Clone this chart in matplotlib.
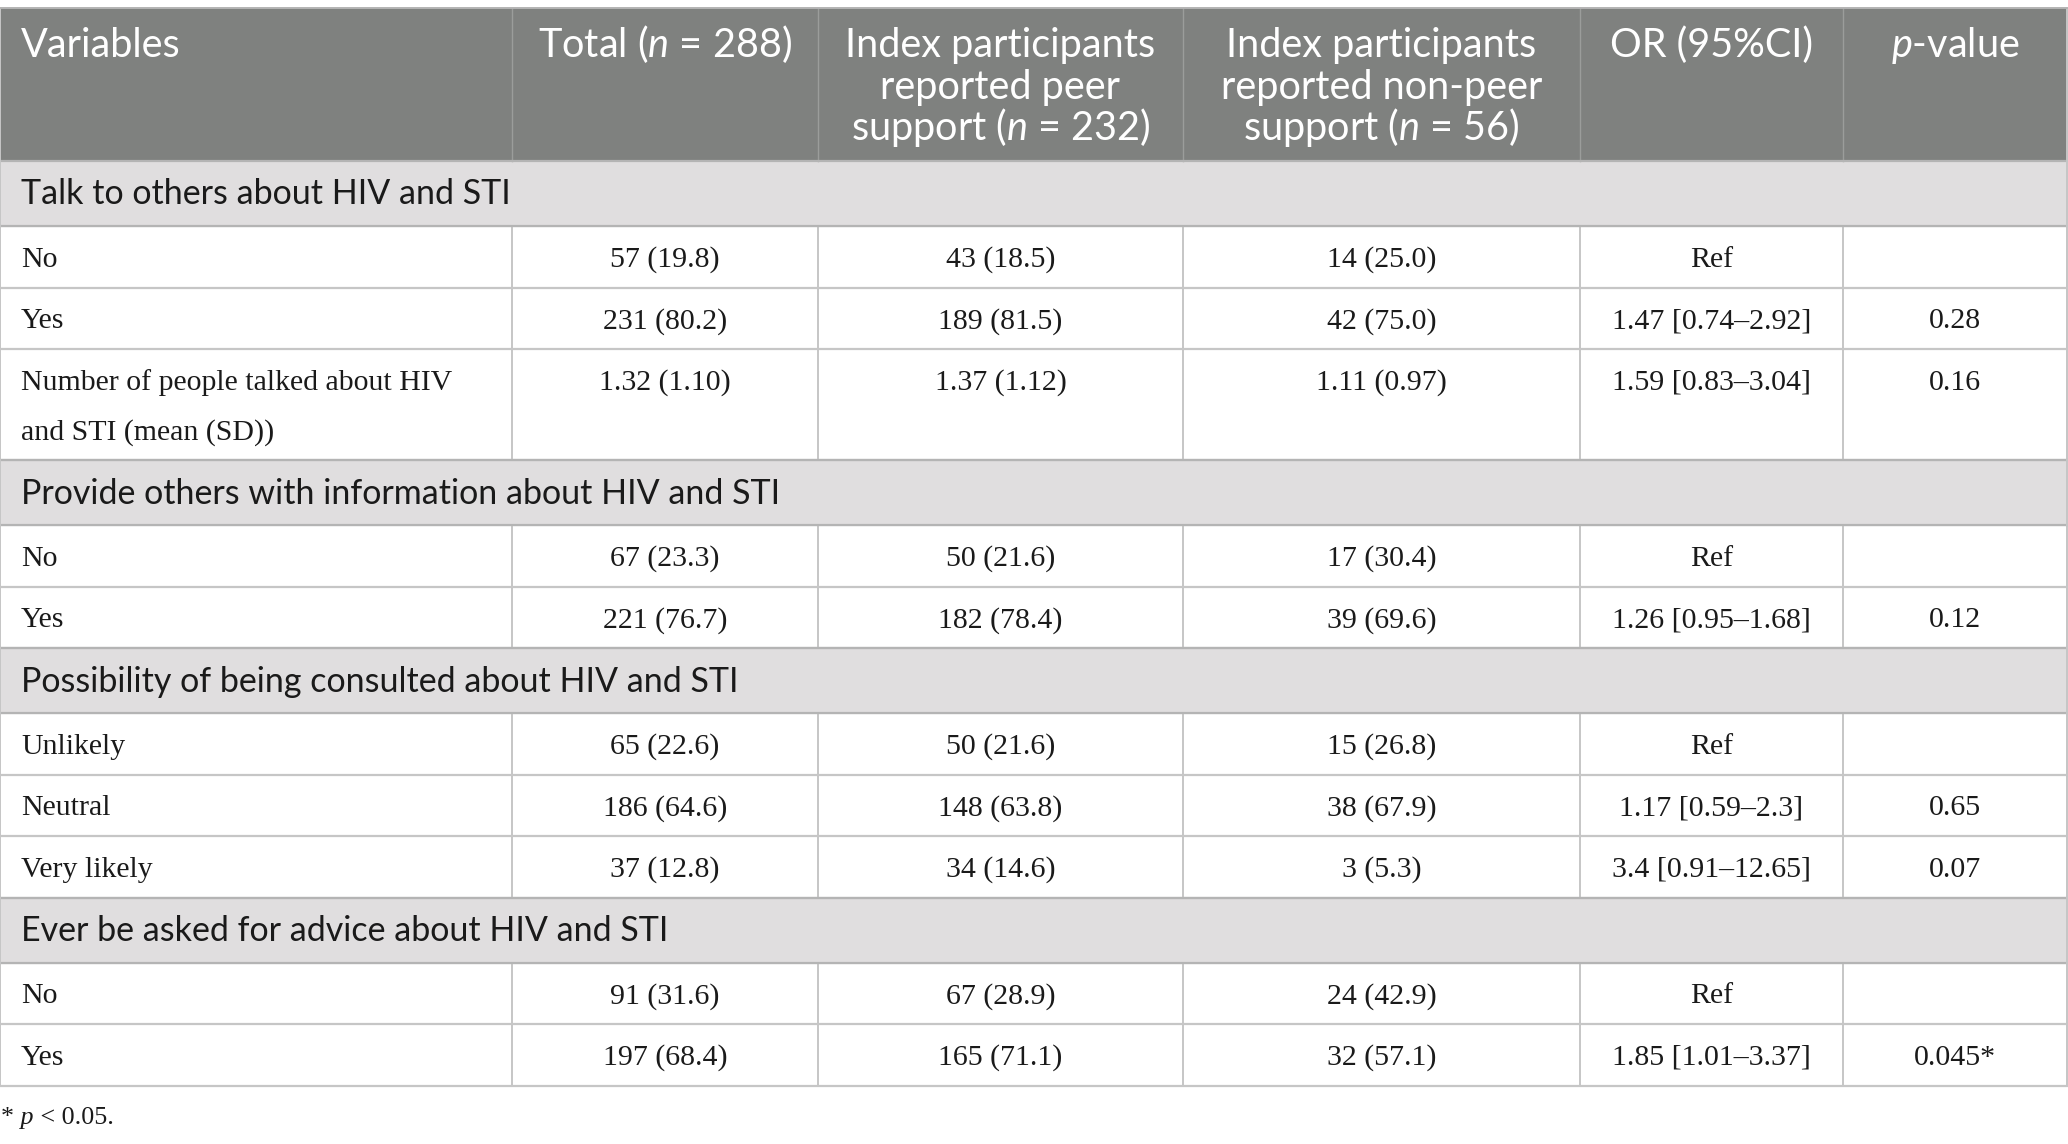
import matplotlib
matplotlib.use("Agg")
import matplotlib.pyplot as plt
from matplotlib.patches import Rectangle

plt.rcParams['mathtext.fontset'] = 'custom'
plt.rcParams['mathtext.rm'] = 'Lato'
plt.rcParams['mathtext.it'] = 'Lato:italic'

# header lines per column
headers = [
    ["Variables"],
    ["Total ($n$ = 288)"],
    ["Index participants", "reported peer", "support ($n$ = 232)"],
    ["Index participants", "reported non-peer", "support ($n$ = 56)"],
    ["OR (95%CI)"],
    ["$p$-value"],
]

sections = [
    "Talk to others about HIV and STI",
    "Provide others with information about HIV and STI",
    "Possibility of being consulted about HIV and STI",
    "Ever be asked for advice about HIV and STI",
]

labels = [
    ["No", "Yes", "Number of people talked about HIV\nand STI (mean (SD))"],
    ["No", "Yes"],
    ["Unlikely", "Neutral", "Very likely"],
    ["No", "Yes"],
]
total = [
    ["57 (19.8)", "231 (80.2)", "1.32 (1.10)"],
    ["67 (23.3)", "221 (76.7)"],
    ["65 (22.6)", "186 (64.6)", "37 (12.8)"],
    ["91 (31.6)", "197 (68.4)"],
]
peer = [
    ["43 (18.5)", "189 (81.5)", "1.37 (1.12)"],
    ["50 (21.6)", "182 (78.4)"],
    ["50 (21.6)", "148 (63.8)", "34 (14.6)"],
    ["67 (28.9)", "165 (71.1)"],
]
nonpeer = [
    ["14 (25.0)", "42 (75.0)", "1.11 (0.97)"],
    ["17 (30.4)", "39 (69.6)"],
    ["15 (26.8)", "38 (67.9)", "3 (5.3)"],
    ["24 (42.9)", "32 (57.1)"],
]
or_ci = [
    ["Ref", "1.47 [0.74\u20132.92]", "1.59 [0.83\u20133.04]"],
    ["Ref", "1.26 [0.95\u20131.68]"],
    ["Ref", "1.17 [0.59\u20132.3]", "3.4 [0.91\u201312.65]"],
    ["Ref", "1.85 [1.01\u20133.37]"],
]
pvals = [
    ["", "0.28", "0.16"],
    ["", "0.12"],
    ["", "0.65", "0.07"],
    ["", "0.045*"],
]
footnote = [("*", "normal"), (" p", "italic"), (" < 0.05.", "normal")]

W, H = 2068, 1144
col_x = [0, 512, 818, 1183, 1580, 1843, 2067]
top = 8
head_h = 153
sec_h = 65
row_h = 61.5
tall_h = 111

head_bg = '#7f817f'
sec_bg = '#e0dedf'
grid = '#c6c6c6'
ink = '#1a1a1a'
sans = 'Lato'
serif = 'Liberation Serif'

fig = plt.figure(figsize=(W / 100, H / 100), dpi=100)
ax = fig.add_axes([0, 0, 1, 1])
ax.set_xlim(0, W)
ax.set_ylim(H, 0)
ax.axis('off')

# header
ax.add_patch(Rectangle((0, top), W - 1, head_h, color=head_bg, zorder=0))
for x in col_x[1:-1]:
    ax.plot([x, x], [top, top + head_h], color='#9b9d9b', lw=1, zorder=1)
for i, lines in enumerate(headers):
    for k, line in enumerate(lines):
        yb = top + 49 + k * 41.5
        if i == 0:
            ax.text(21, yb, line, color='white', fontsize=28.5, family=sans,
                    ha='left', va='baseline')
        else:
            ax.text((col_x[i] + col_x[i + 1]) / 2, yb, line, color='white',
                    fontsize=28.5, family=sans, ha='center', va='baseline')

y = top + head_h
for s, name in enumerate(sections):
    ax.add_patch(Rectangle((0, y), W - 1, sec_h, color=sec_bg, zorder=0))
    ax.plot([0, W - 1], [y, y], color='#b4b4b4', lw=1.6, zorder=2)
    ax.text(21, y + sec_h / 2 + 11, name, color=ink, fontsize=24.5, family=sans,
            ha='left', va='baseline')
    y += sec_h
    ax.plot([0, W - 1], [y, y], color='#b4b4b4', lw=1.6, zorder=2)
    for r, lab in enumerate(labels[s]):
        cells = [lab, total[s][r], peer[s][r], nonpeer[s][r], or_ci[s][r], pvals[s][r]]
        two = '\n' in lab
        h = tall_h if two else row_h
        yb = y + 41 if two else y + h / 2 + 10
        for c, txt in enumerate(cells):
            if c == 0:
                for k, part in enumerate(txt.split('\n')):
                    ax.text(21, yb + k * 50, part, color=ink, fontsize=21.5,
                            family=serif, ha='left', va='baseline')
            else:
                ax.text((col_x[c] + col_x[c + 1]) / 2, yb, txt, color=ink,
                        fontsize=21.5, family=serif, ha='center', va='baseline')
        for x in col_x:
            ax.plot([x, x], [y, y + h], color=grid, lw=1.4, zorder=1)
        y += h
        ax.plot([0, W - 1], [y, y], color=grid, lw=1.6, zorder=2)

# left/right borders of header and section rows
ax.plot([0, 0], [top, y], color=grid, lw=1.4)
ax.plot([W - 1, W - 1], [top, y], color=grid, lw=1.4)
ax.plot([0, W - 1], [top, top], color='#b4b4b4', lw=1.4)

# footnote with italic p
fig.canvas.draw()
rend = fig.canvas.get_renderer()
inv = ax.transData.inverted()
fx = 1
for txt, st in footnote:
    t = ax.text(fx, 1124, txt, color=ink, fontsize=18.7, family=serif,
                style=st, ha='left', va='baseline')
    bb = t.get_window_extent(renderer=rend)
    fx = inv.transform((bb.x1, bb.y0))[0]

fig.savefig('out.png', dpi=100)
